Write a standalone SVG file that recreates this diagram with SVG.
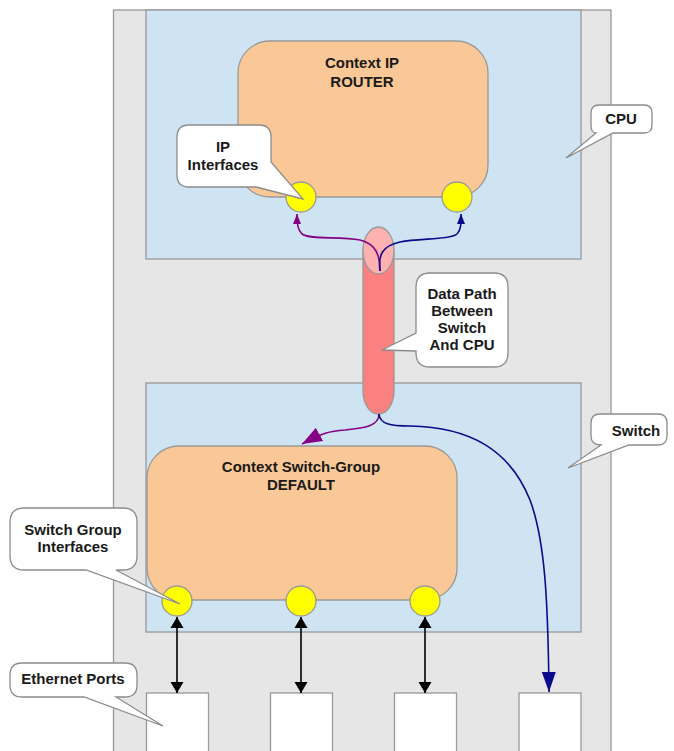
<svg xmlns="http://www.w3.org/2000/svg" width="674" height="751" viewBox="0 0 674 751">
<defs>
<style>
.box{stroke:#999;stroke-width:1.3}
.outer{fill:#e6e6e6}
.blue{fill:#cfe4f2}
.ctx{fill:#f9c896}
.ifc{fill:#ffff00;stroke:#999;stroke-width:1.3}
.port{fill:#fff;stroke:#999;stroke-width:1.3}
.callout{fill:#fff;stroke:#8c8c8c;stroke-width:1.3}
text{font-family:"Liberation Sans",Arial,sans-serif;font-weight:bold;font-size:15px;fill:#1a1a1a;text-anchor:middle}
.c{fill:none;stroke-width:1.6}
</style>
<marker id="ahS" markerUnits="userSpaceOnUse" markerWidth="12" markerHeight="12" refX="10" refY="4" orient="auto"><path d="M0,0 L10,4 L0,8 Z" fill="context-stroke"/></marker>
<marker id="ahP" markerUnits="userSpaceOnUse" markerWidth="22" markerHeight="16" refX="20" refY="7.5" orient="auto"><path d="M0,0 L20,7.5 L0,15 Z" fill="#850085"/></marker>
<marker id="ahB" markerUnits="userSpaceOnUse" markerWidth="22" markerHeight="16" refX="20" refY="7" orient="auto"><path d="M0,0 L20,7 L0,14 Z" fill="#0a0a8c"/></marker>
<marker id="ahK" markerUnits="userSpaceOnUse" markerWidth="14" markerHeight="14" refX="11" refY="6.5" orient="auto"><path d="M0,0 L11,6.5 L0,13 Z" fill="#000"/></marker>
<marker id="ahKs" markerUnits="userSpaceOnUse" markerWidth="14" markerHeight="14" refX="0" refY="6.5" orient="auto"><path d="M11,0 L0,6.5 L11,13 Z" fill="#000"/></marker>
</defs>

<g id="chassis"><rect class="box outer" x="113.5" y="10" width="497.5" height="760"/></g>
<g id="cpu"><rect class="box blue" x="146" y="10" width="435" height="249"/></g>
<g id="switch"><rect class="box blue" x="146" y="383" width="435" height="249"/></g>

<g id="router">
<rect class="box ctx" x="238" y="41" width="250" height="156" rx="32"/>
<text x="362" y="68">Context IP</text>
<text x="362" y="87">ROUTER</text>
</g>
<g id="switch-group">
<rect class="box ctx" x="147" y="446" width="310" height="154" rx="32"/>
<text x="301" y="472">Context Switch-Group</text>
<text x="301" y="490">DEFAULT</text>
</g>

<g id="ip-if-1"><circle class="ifc" cx="301" cy="197" r="15"/></g>
<g id="ip-if-2"><circle class="ifc" cx="457" cy="197" r="15"/></g>
<g id="sg-if-1"><circle class="ifc" cx="177" cy="601" r="15"/></g>
<g id="sg-if-2"><circle class="ifc" cx="301" cy="601" r="15"/></g>
<g id="sg-if-3"><circle class="ifc" cx="425" cy="601" r="15"/></g>

<g id="port-1"><rect class="port" x="146.5" y="693" width="62" height="70"/></g>
<g id="port-2"><rect class="port" x="270.5" y="693" width="62" height="70"/></g>
<g id="port-3"><rect class="port" x="394.5" y="693" width="62" height="70"/></g>
<g id="port-4"><rect class="port" x="519" y="693" width="62" height="70"/></g>

<g id="data-path">
<path d="M363,250 V391 A15.5,23 0 0 0 394,391 V250 Z" fill="#fb8080" stroke="#999" stroke-width="1.3"/>
<ellipse cx="378.5" cy="250.5" rx="15.5" ry="23.5" fill="#fdb1b1" stroke="#999" stroke-width="1.3"/>
</g>

<g id="callout-ip">
<path class="callout" d="M189,125 H259 Q271,125 271,137 V162 L303,199 L256,187 H189 Q177,187 177,175 V137 Q177,125 189,125 Z"/>
<text x="223" y="152">IP</text>
<text x="223" y="170">Interfaces</text>
</g>
<g id="callout-cpu">
<path class="callout" d="M599,105 H644 Q652,105 652,113 V125 Q652,133 644,133 H613 L566,158 L596,133 Q591,133 591,125 V113 Q591,105 599,105 Z"/>
<text x="621" y="124">CPU</text>
</g>
<g id="callout-switch">
<path class="callout" d="M600,414 H658 Q667,414 667,423 V436 Q667,445 658,445 H629 L568,468 L601,445 Q591,445 591,436 V423 Q591,414 600,414 Z"/>
<text x="636" y="436">Switch</text>
</g>
<g id="callout-datapath">
<path class="callout" d="M430,273 H494 Q508,273 508,287 V353 Q508,367 494,367 H430 Q416,367 416,353 V351 L382,350 L416,333 V287 Q416,273 430,273 Z"/>
<text x="462" y="299">Data Path</text>
<text x="462" y="316">Between</text>
<text x="462" y="333">Switch</text>
<text x="462" y="350">And CPU</text>
</g>
<g id="callout-sg">
<path class="callout" d="M24,508 H123 Q137,508 137,522 V556 Q137,570 123,570 H116 L180,604 L86,570 H24 Q10,570 10,556 V522 Q10,508 24,508 Z"/>
<text x="73" y="535">Switch Group</text>
<text x="73" y="552">Interfaces</text>
</g>
<g id="callout-eth">
<path class="callout" d="M22,663 H125 Q137,663 137,675 V685 Q137,697 125,697 H116 L163,726 L84,697 H22 Q10,697 10,685 V675 Q10,663 22,663 Z"/>
<text x="73" y="684">Ethernet Ports</text>
</g>

<g id="connectors">
<path class="c" stroke="#850085" d="M380,271 C380,255 376,244 360,240 C340,236 310,240 302,234 C298,230 297,225 297,214" marker-end="url(#ahS)"/>
<path class="c" stroke="#0a0a8c" d="M380,271 C378,255 382,246 400,242 C420,238 450,240 457,234 C461,230 461,225 461,214" marker-end="url(#ahS)"/>
<path class="c" stroke="#850085" d="M379,414 C379,426 365,428 345,430 C330,431 322,433 302,444" marker-end="url(#ahP)"/>
<path class="c" stroke="#0a0a8c" d="M379,414 C380,424 390,426 410,426 C470,427 510,450 530,500 C545,540 548,600 549,692" marker-end="url(#ahB)"/>
<path class="c" stroke="#000" stroke-width="1.4" d="M177,617 V693" marker-start="url(#ahKs)" marker-end="url(#ahK)"/>
<path class="c" stroke="#000" stroke-width="1.4" d="M301,617 V693" marker-start="url(#ahKs)" marker-end="url(#ahK)"/>
<path class="c" stroke="#000" stroke-width="1.4" d="M425,617 V693" marker-start="url(#ahKs)" marker-end="url(#ahK)"/>
</g>
</svg>
